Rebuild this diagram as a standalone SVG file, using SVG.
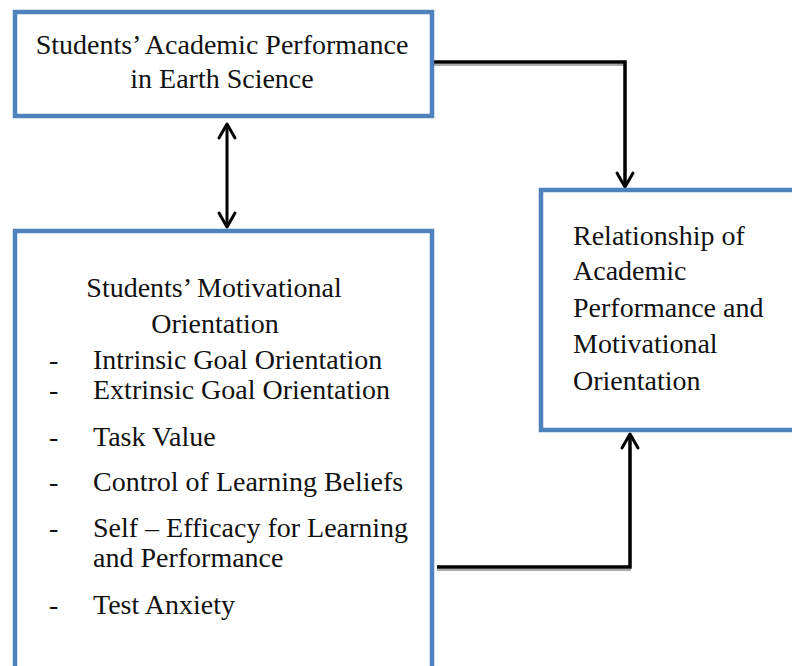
<svg xmlns="http://www.w3.org/2000/svg" width="792" height="666" viewBox="0 0 792 666">
<style>
.box{fill:#fff;stroke:#4F81BD;stroke-width:4.5}
.t{font-family:"Liberation Serif","Times New Roman",serif;font-size:28px;fill:#111}
.c{text-anchor:middle}
.ln{fill:none;stroke:#000;stroke-width:3.5;stroke-linejoin:miter}
.sh{fill:none;stroke:#aaa;stroke-width:2}
</style>
<defs>
<marker id="ah" markerUnits="userSpaceOnUse" markerWidth="24" markerHeight="24" viewBox="-18 -12 24 24" refX="0" refY="0" orient="auto-start-reverse">
<path d="M -14,-8 L 0,0 L -14,8" fill="none" stroke="#000" stroke-width="3" stroke-linejoin="round" stroke-linecap="round"/>
</marker>
</defs>
<rect width="792" height="666" fill="#fff"/>
<g id="connectors">
<path class="sh" d="M 433,65 H 624"/>
<path class="ln" d="M 432,62 H 625 V 187" marker-end="url(#ah)"/>
<path class="ln" d="M 227,124 V 227" style="stroke-width:3" marker-start="url(#ah)" marker-end="url(#ah)"/>
<path class="sh" d="M 437,570 H 631"/>
<path class="ln" d="M 437,567 H 630 V 434" marker-end="url(#ah)"/>
</g>
<g id="node-performance">
<rect class="box" x="15" y="12" width="417" height="104"/>
<text class="t c" x="222" y="54">Students’ Academic Performance</text>
<text class="t c" x="222" y="88">in Earth Science</text>
</g>
<g id="node-motivation">
<rect class="box" x="15" y="231" width="417" height="500"/>
<text class="t c" x="214" y="297">Students’ Motivational</text>
<text class="t c" x="215" y="333">Orientation</text>
<text class="t" x="49" y="369">-</text><text class="t" x="93" y="369">Intrinsic Goal Orientation</text>
<text class="t" x="49" y="399">-</text><text class="t" x="93" y="399">Extrinsic Goal Orientation</text>
<text class="t" x="49" y="446">-</text><text class="t" x="93" y="446">Task Value</text>
<text class="t" x="49" y="491">-</text><text class="t" x="93" y="491">Control of Learning Beliefs</text>
<text class="t" x="49" y="537">-</text><text class="t" x="93" y="537">Self – Efficacy for Learning</text>
<text class="t" x="93" y="567">and Performance</text>
<text class="t" x="49" y="614">-</text><text class="t" x="93" y="614">Test Anxiety</text>
</g>
<g id="node-relationship">
<rect class="box" x="541" y="190" width="300" height="240"/>
<text class="t" x="573" y="245">Relationship of</text>
<text class="t" x="573" y="280">Academic</text>
<text class="t" x="573" y="317">Performance and</text>
<text class="t" x="573" y="353">Motivational</text>
<text class="t" x="573" y="390">Orientation</text>
</g>
</svg>
